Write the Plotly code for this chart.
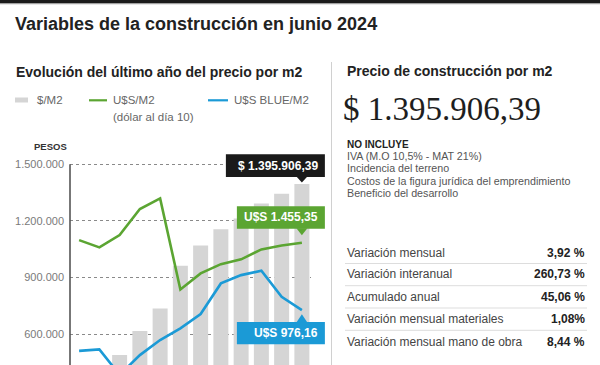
import plotly.graph_objects as go

# ---------------- data ----------------
months = ["Jul 23", "Ago 23", "Sep 23", "Oct 23", "Nov 23", "Dic 23",
          "Ene 24", "Feb 24", "Mar 24", "Abr 24", "May 24", "Jun 24"]
pesos_m2 = [405000, 428000, 489000, 616000, 736000, 962296,
            1070000, 1156000, 1213000, 1292000, 1343251, 1395906.39]
usd_m2 = [1474, 1422, 1510, 1695, 1771, 1123, 1237, 1303, 1337, 1408, 1436, 1455.35]
usd_blue_m2 = [686, 697, 515, 656, 763, 846, 948, 1166, 1225, 1256, 1071, 976.16]

y_tickvals = [600000, 900000, 1200000, 1500000]
y_ticktext = ["600.000", "900.000", "1.200.000", "1.500.000"]

label_pesos = "$ 1.395.906,39"
label_usd = "U$S 1.455,35"
label_blue = "U$S 976,16"

big_price = "$ 1.395.906,39"
no_incluye = ["IVA (M.O 10,5% - MAT 21%)", "Incidencia del terreno",
              "Costos de la figura jurídica del emprendimiento", "Beneficio del desarrollo"]
table_labels = ["Variación mensual", "Variación interanual", "Acumulado anual",
                "Variación mensual materiales", "Variación mensual mano de obra"]
table_values = ["3,92 %", "260,73 %", "45,06 %", "1,08%", "8,44 %"]

# ---------------- layout constants ----------------
W, H = 600, 365
L, R, T, B = 70, 289, 158, 0
PW, PH = W - L - R, H - T - B
SCALE = 300000 / 56.6          # pesos per pixel
PIX_TOP_TICK = 164.3           # pixel row of the 1.500.000 gridline
Y_MAX = 1500000 + (PIX_TOP_TICK - T) * SCALE
Y_MIN = 1500000 - (H - B - PIX_TOP_TICK) * SCALE
USD_K = 745.0                  # pesos-per-dollar scale of the hidden secondary axis
X_RANGE = [-0.45, 11.45]

GREEN = "#5ba532"
BLUE = "#1b9ad6"
BAR = "#d5d5d5"
DARK = "#222222"
SANS = "Liberation Sans, Arial, sans-serif"
SERIF = "Liberation Serif, Times New Roman, serif"


def px(X):
    return (X - L) / PW


def py(Y):
    return (H - B - Y) / PH


def x_pix(i):
    return L + (i - X_RANGE[0]) / (X_RANGE[1] - X_RANGE[0]) * PW


def y_pix(v):
    return T + (Y_MAX - v) / (Y_MAX - Y_MIN) * PH


fig = go.Figure()
fig.add_trace(go.Bar(x=months, y=pesos_m2, marker=dict(color=BAR, line=dict(width=0)),
                     width=0.74, name="$/M2", showlegend=False, hoverinfo="skip"))
fig.add_trace(go.Scatter(x=months, y=usd_m2, yaxis="y2", mode="lines",
                         line=dict(color=GREEN, width=2.6), name="U$S/M2",
                         showlegend=False, hoverinfo="skip"))
fig.add_trace(go.Scatter(x=months, y=usd_blue_m2, yaxis="y2", mode="lines",
                         line=dict(color=BLUE, width=2.6), name="U$S BLUE/M2",
                         showlegend=False, hoverinfo="skip"))

shapes = []
annotations = []


def ann(text, X, Y, size, color=DARK, xanchor="left", family=SANS, **kw):
    annotations.append(dict(text=text, x=px(X), y=py(Y), xref="paper", yref="paper",
                            xanchor=xanchor, yanchor="middle", showarrow=False,
                            font=dict(size=size, color=color, family=family), **kw))


def hline(X0, X1, Y, color, width=1, dash="solid"):
    shapes.append(dict(type="line", xref="paper", yref="paper", x0=px(X0), x1=px(X1),
                       y0=py(Y), y1=py(Y), line=dict(color=color, width=width, dash=dash)))


def vline(X, Y0, Y1, color, width=1):
    shapes.append(dict(type="line", xref="paper", yref="paper", x0=px(X), x1=px(X),
                       y0=py(Y0), y1=py(Y1), line=dict(color=color, width=width)))


# top rule
shapes.append(dict(type="rect", xref="paper", yref="paper", x0=px(0), x1=px(W),
                   y0=py(0), y1=py(3), fillcolor="#1b1b1b", line=dict(width=0)))
hline(0, W, 3.6, "#a0a0a0", 1.2)

# divider
vline(331.5, 62, H, "#d0d0d0", 1)

# y axis line from the top tick downwards
vline(L, y_pix(y_tickvals[-1]), H, "#555555", 1.6)

# titles
ann("<b>Variables de la construcción en junio 2024</b>", 13, 24, 18)
ann("<b>Evolución del último año del precio por m2</b>", 14, 72, 14)

# legend
shapes.append(dict(type="rect", xref="paper", yref="paper", x0=px(15), x1=px(28),
                   y0=py(97.5), y1=py(102.5), fillcolor=BAR, line=dict(width=0)))
ann("$/M2", 35, 100, 11.5, "#666666")
hline(89, 107, 100.3, GREEN, 2.2)
ann("U$S/M2", 111, 100, 11.5, "#666666")
ann("(dólar al día 10)", 111, 116.5, 11.5, "#666666")
hline(208, 228, 100.3, BLUE, 2.2)
ann("U$S BLUE/M2", 232, 100, 11.5, "#666666")

ann("<b>PESOS</b>", 32, 146.5, 9.5, "#333333")

# labels attached to the last data point (boxes with pointers)
last = len(months) - 1
xp = x_pix(last)


def box(vpix, left, right, top, bottom, color, tri_base, tri_tip, text, text_y):
    shapes.append(dict(type="rect", xref="paper", yref="paper",
                       x0=px(xp + left), x1=px(xp + right), y0=py(vpix + top), y1=py(vpix + bottom),
                       fillcolor=color, line=dict(width=0), layer="above"))
    path = (f"M {px(xp - 5.5)},{py(vpix + tri_base)} L {px(xp + 5.5)},{py(vpix + tri_base)} "
            f"L {px(xp)},{py(vpix + tri_tip)} Z")
    shapes.append(dict(type="path", xref="paper", yref="paper", path=path,
                       fillcolor=color, line=dict(width=0), layer="above"))
    ann(f"<b>{text}</b>", xp + 18, vpix + text_y, 12, "white", xanchor="right")


v_black = y_pix(pesos_m2[-1])
v_green = y_pix(usd_m2[-1] * USD_K)
v_blue = y_pix(usd_blue_m2[-1] * USD_K)
box(v_black, -76, 23, -29.6, -7, "#1a1a1a", -7.5, -1.4, label_pesos, -18.3)
box(v_green, -65, 23, -36.4, -14.1, GREEN, -14.6, -7.4, label_usd, -25.3)
box(v_blue, -65, 23, 11.9, 34.2, BLUE, 12.4, 4.2, label_blue, 23)

# right panel
ann("<b>Precio de construcción por m2</b>", 345, 71.5, 14)
ann(big_price, 341, 109, 33, "#1e1e1e", family=SERIF)
ann("<b>NO INCLUYE</b>", 345, 144.8, 10, DARK)
for i, t in enumerate(no_incluye):
    ann(t, 345, 156 + i * 12.4, 10.7, "#555555")

row_y = [253.3, 274.3, 296.7, 319.3, 341.7]
for i, (lab, val) in enumerate(zip(table_labels, table_values)):
    ann(lab, 345, row_y[i], 12, "#444444")
    ann(f"<b>{val}</b>", 587, row_y[i], 12, DARK, xanchor="right")
for yy in [263.5, 285.7, 308, 330.3]:
    hline(345, 587, yy, "#dddddd", 1)

fig.update_layout(
    template="none",
    width=W, height=H,
    margin=dict(l=L, r=R, t=T, b=B, pad=0),
    paper_bgcolor="white", plot_bgcolor="rgba(0,0,0,0)",
    showlegend=False,
    xaxis=dict(type="category", range=X_RANGE, showticklabels=False, showgrid=False,
               zeroline=False, showline=False, ticks="", fixedrange=True, automargin=False),
    yaxis=dict(range=[Y_MIN, Y_MAX], tickvals=y_tickvals, ticktext=y_ticktext,
               showgrid=True, gridcolor="#8a8a8a", griddash="dot", gridwidth=1,
               showline=False, zeroline=False,
               ticks="", ticklabelstandoff=5,
               tickfont=dict(size=11, color="#7a7a7a", family=SANS), automargin=False,
               fixedrange=True),
    yaxis2=dict(range=[Y_MIN / USD_K, Y_MAX / USD_K], overlaying="y", visible=False,
                showgrid=False, zeroline=False, fixedrange=True),
    shapes=shapes,
    annotations=annotations,
)

fig.write_html("out.html", config={"displayModeBar": False},
               post_script="document.body.style.margin='0';document.body.style.overflow='hidden';")
